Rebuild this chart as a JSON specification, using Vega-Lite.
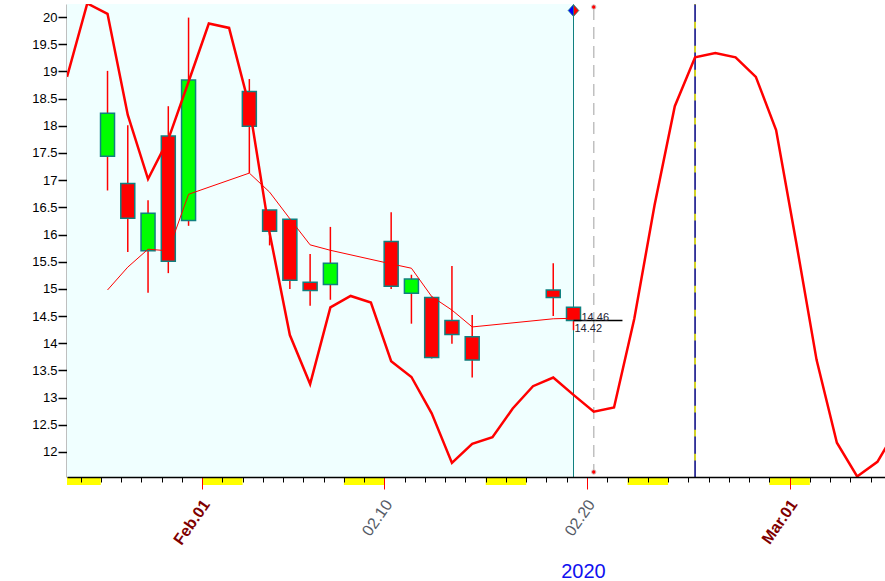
{
 "$schema": "https://vega.github.io/schema/vega-lite/v6.json",
 "width": 818, "height": 473, "autosize": "none",
 "padding": {"left": 67, "top": 4, "right": 0, "bottom": 104},
 "background": "#ffffff",
 "config": {"view": {"stroke": null}, "font": "Liberation Sans",
  "axisY": {"tickCount": 18, "format": "~g", "tickSize": 9, "tickWidth": 1.5, "tickColor": "#000000",
   "domainColor": "#000000", "domainWidth": 1.5, "labelFontSize": 13, "labelColor": "#000000",
   "labelPadding": 1, "labelFont": "Liberation Sans", "labelOverlap": false, "grid": false, "zindex": 1}},
 "datasets": {
  "shade": [{"date": "2020-01-25T08:00:00Z", "end": "2020-02-19T08:00:00Z"}],
  "weekends": [
   {"date": "2020-01-25T08:00:00Z", "end": "2020-01-27T00:00:00Z"},
   {"date": "2020-02-01T00:00:00Z", "end": "2020-02-03T00:00:00Z"},
   {"date": "2020-02-08T00:00:00Z", "end": "2020-02-10T00:00:00Z"},
   {"date": "2020-02-15T00:00:00Z", "end": "2020-02-17T00:00:00Z"},
   {"date": "2020-02-22T00:00:00Z", "end": "2020-02-24T00:00:00Z"},
   {"date": "2020-02-29T00:00:00Z", "end": "2020-03-02T00:00:00Z"}
  ],
  "candles": [
   {"date": "2020-01-27T08:00:00Z", "open": 17.44, "high": 19.01, "low": 16.81, "close": 18.23},
   {"date": "2020-01-28T08:00:00Z", "open": 16.94, "high": 18.01, "low": 15.68, "close": 16.30},
   {"date": "2020-01-29T08:00:00Z", "open": 15.70, "high": 16.63, "low": 14.93, "close": 16.39},
   {"date": "2020-01-30T08:00:00Z", "open": 17.81, "high": 18.36, "low": 15.29, "close": 15.51},
   {"date": "2020-01-31T08:00:00Z", "open": 16.26, "high": 19.99, "low": 16.16, "close": 18.84},
   {"date": "2020-02-03T08:00:00Z", "open": 18.63, "high": 18.86, "low": 17.13, "close": 17.99},
   {"date": "2020-02-04T08:00:00Z", "open": 16.45, "high": 16.45, "low": 15.80, "close": 16.06},
   {"date": "2020-02-05T08:00:00Z", "open": 16.28, "high": 16.28, "low": 15.00, "close": 15.16},
   {"date": "2020-02-06T08:00:00Z", "open": 15.12, "high": 15.64, "low": 14.69, "close": 14.97},
   {"date": "2020-02-07T08:00:00Z", "open": 15.08, "high": 16.14, "low": 14.80, "close": 15.47},
   {"date": "2020-02-10T08:00:00Z", "open": 15.87, "high": 16.41, "low": 15.00, "close": 15.05},
   {"date": "2020-02-11T08:00:00Z", "open": 14.92, "high": 15.26, "low": 14.36, "close": 15.18},
   {"date": "2020-02-12T08:00:00Z", "open": 14.84, "high": 14.86, "low": 13.72, "close": 13.74},
   {"date": "2020-02-13T08:00:00Z", "open": 14.42, "high": 15.42, "low": 13.99, "close": 14.16},
   {"date": "2020-02-14T08:00:00Z", "open": 14.12, "high": 14.52, "low": 13.37, "close": 13.69},
   {"date": "2020-02-18T08:00:00Z", "open": 14.98, "high": 15.47, "low": 14.50, "close": 14.84},
   {"date": "2020-02-19T08:00:00Z", "open": 14.66, "high": 14.66, "low": 14.24, "close": 14.42}
  ],
  "ma": [
   {"date": "2020-01-27T08:00:00Z", "ma": 14.98},
   {"date": "2020-01-28T08:00:00Z", "ma": 15.40},
   {"date": "2020-01-29T08:00:00Z", "ma": 15.73},
   {"date": "2020-01-30T08:00:00Z", "ma": 15.70},
   {"date": "2020-01-31T08:00:00Z", "ma": 16.74},
   {"date": "2020-02-03T08:00:00Z", "ma": 17.13},
   {"date": "2020-02-04T08:00:00Z", "ma": 16.78},
   {"date": "2020-02-05T08:00:00Z", "ma": 16.29},
   {"date": "2020-02-06T08:00:00Z", "ma": 15.81},
   {"date": "2020-02-07T08:00:00Z", "ma": 15.71},
   {"date": "2020-02-10T08:00:00Z", "ma": 15.46},
   {"date": "2020-02-11T08:00:00Z", "ma": 15.38},
   {"date": "2020-02-12T08:00:00Z", "ma": 14.86},
   {"date": "2020-02-13T08:00:00Z", "ma": 14.61},
   {"date": "2020-02-14T08:00:00Z", "ma": 14.30},
   {"date": "2020-02-18T08:00:00Z", "ma": 14.45},
   {"date": "2020-02-19T08:00:00Z", "ma": 14.46}
  ],
  "cycle": [
   {"date": "2020-01-25T08:00:00Z", "v": 18.90},
   {"date": "2020-01-26T08:00:00Z", "v": 20.25},
   {"date": "2020-01-27T08:00:00Z", "v": 20.06},
   {"date": "2020-01-28T08:00:00Z", "v": 18.20},
   {"date": "2020-01-29T08:00:00Z", "v": 17.02},
   {"date": "2020-01-30T08:00:00Z", "v": 17.75},
   {"date": "2020-01-31T08:00:00Z", "v": 18.81},
   {"date": "2020-02-01T08:00:00Z", "v": 19.88},
   {"date": "2020-02-02T08:00:00Z", "v": 19.80},
   {"date": "2020-02-03T08:00:00Z", "v": 18.36},
   {"date": "2020-02-04T08:00:00Z", "v": 16.03},
   {"date": "2020-02-05T08:00:00Z", "v": 14.15},
   {"date": "2020-02-06T08:00:00Z", "v": 13.25},
   {"date": "2020-02-07T08:00:00Z", "v": 14.66},
   {"date": "2020-02-08T08:00:00Z", "v": 14.87},
   {"date": "2020-02-09T08:00:00Z", "v": 14.75},
   {"date": "2020-02-10T08:00:00Z", "v": 13.67},
   {"date": "2020-02-11T08:00:00Z", "v": 13.38},
   {"date": "2020-02-12T08:00:00Z", "v": 12.71},
   {"date": "2020-02-13T08:00:00Z", "v": 11.80},
   {"date": "2020-02-14T08:00:00Z", "v": 12.15},
   {"date": "2020-02-15T08:00:00Z", "v": 12.27},
   {"date": "2020-02-16T08:00:00Z", "v": 12.80},
   {"date": "2020-02-17T08:00:00Z", "v": 13.21},
   {"date": "2020-02-18T08:00:00Z", "v": 13.37},
   {"date": "2020-02-19T08:00:00Z", "v": 13.05},
   {"date": "2020-02-20T08:00:00Z", "v": 12.74},
   {"date": "2020-02-21T08:00:00Z", "v": 12.82},
   {"date": "2020-02-22T08:00:00Z", "v": 14.45},
   {"date": "2020-02-23T08:00:00Z", "v": 16.54},
   {"date": "2020-02-24T08:00:00Z", "v": 18.36},
   {"date": "2020-02-25T08:00:00Z", "v": 19.26},
   {"date": "2020-02-26T08:00:00Z", "v": 19.34},
   {"date": "2020-02-27T08:00:00Z", "v": 19.26},
   {"date": "2020-02-28T08:00:00Z", "v": 18.90},
   {"date": "2020-02-29T08:00:00Z", "v": 17.92},
   {"date": "2020-03-01T08:00:00Z", "v": 15.84},
   {"date": "2020-03-02T08:00:00Z", "v": 13.69},
   {"date": "2020-03-03T08:00:00Z", "v": 12.17},
   {"date": "2020-03-04T08:00:00Z", "v": 11.55},
   {"date": "2020-03-05T08:00:00Z", "v": 11.82},
   {"date": "2020-03-06T08:00:00Z", "v": 12.45}
  ],
  "last": [{"date": "2020-02-19T08:00:00Z", "end": "2020-02-21T18:00:00Z", "ma": 14.46, "close": 14.42}],
  "now": [{"date": "2020-02-19T08:00:00Z"}],
  "next": [{"date": "2020-02-20T08:00:00Z"}],
  "target": [{"date": "2020-02-25T08:00:00Z"}]
 },
 "encoding": {
  "x": {
   "field": "date", "type": "temporal",
   "scale": {"type": "utc", "nice": false, "padding": 0, "domain": [
    {"year": 2020, "month": 1, "date": 25, "hours": 8, "utc": true},
    {"year": 2020, "month": 3, "date": 5, "hours": 17, "utc": true}]},
   "axis": {
    "title": "2020", "titleColor": "#1010F0", "titleFontSize": 20, "titleFontWeight": "normal",
    "titleFont": "Liberation Sans", "titleX": 516, "titleY": 100, "titleAlign": "center", "titleBaseline": "alphabetic",
    "tickCount": {"interval": "day", "step": 1},
    "labelExpr": "utcdate(datum.value)==1 ? utcFormat(datum.value, '%b.%d') : ((utcdate(datum.value)==10 || utcdate(datum.value)==20) ? utcFormat(datum.value, '%m.%d') : '')",
    "labelAngle": -55, "labelAlign": "right", "labelBaseline": "middle",
    "labelFontSize": 16, "labelFont": "Liberation Sans",
    "labelColor": {"condition": {"test": "utcdate(datum.value)==1", "value": "#800000"}, "value": "#555b66"},
    "labelFontWeight": {"condition": {"test": "utcdate(datum.value)==1", "value": "bold"}, "value": "normal"},
    "tickColor": {"condition": {"test": "utcdate(datum.value)==1 || utcdate(datum.value)==10 || utcdate(datum.value)==20", "value": "#FF0000"}, "value": "#000000"},
    "tickSize": {"condition": {"test": "utcdate(datum.value)==1 || utcdate(datum.value)==10 || utcdate(datum.value)==20", "value": 12}, "value": 5},
    "tickWidth": 1,
    "labelPadding": 12, "labelOffset": 4,
    "domainColor": "#000000", "domainWidth": 1.5,
    "grid": false, "labelOverlap": false, "labelFlush": false, "labelBound": false, "zindex": 1
   }
  }
 },
 "layer": [
  {"data": {"name": "shade", "format": {"parse": {"date": "date", "end": "date"}}},
   "mark": {"type": "rect", "color": "#F0FFFF"},
   "encoding": {"x2": {"field": "end"},
    "y": {"datum": 20.24, "type": "quantitative", "title": null, "scale": {"domain": [11.54, 20.24], "nice": false, "zero": false, "padding": 0}},
    "y2": {"datum": 11.54}}},
  {"data": {"name": "weekends", "format": {"parse": {"date": "date", "end": "date"}}},
   "mark": {"type": "rect", "color": "#FFFF00"},
   "encoding": {"x2": {"field": "end"},
    "y": {"datum": 11.54, "type": "quantitative", "title": null, "scale": {"domain": [11.54, 20.24], "nice": false, "zero": false, "padding": 0}},
    "y2": {"datum": 11.393}}},
  {"data": {"name": "now"},
   "mark": {"type": "rule", "color": "#108080", "strokeWidth": 1},
   "encoding": {"y": {"datum": 20.12, "type": "quantitative", "title": null, "scale": {"domain": [11.54, 20.24], "nice": false, "zero": false, "padding": 0}},
    "y2": {"datum": 11.54}}},
  {"data": {"name": "next"},
   "mark": {"type": "rule", "color": "#C0C0C0", "strokeWidth": 1.5, "strokeDash": [12, 7]},
   "encoding": {"y": {"datum": 20.166, "type": "quantitative", "title": null, "scale": {"domain": [11.54, 20.24], "nice": false, "zero": false, "padding": 0}},
    "y2": {"datum": 11.669}}},
  {"data": {"name": "target"},
   "mark": {"type": "rule", "color": "#000080", "strokeWidth": 1.5},
   "encoding": {"y": {"datum": 20.24, "type": "quantitative", "title": null, "scale": {"domain": [11.54, 20.24], "nice": false, "zero": false, "padding": 0}},
    "y2": {"datum": 11.54}}},
  {"data": {"name": "target"},
   "mark": {"type": "rule", "color": "#FFFF00", "strokeWidth": 1.5, "strokeDash": [6.7, 17.3], "strokeDashOffset": 6.3},
   "encoding": {"y": {"datum": 20.24, "type": "quantitative", "title": null, "scale": {"domain": [11.54, 20.24], "nice": false, "zero": false, "padding": 0}},
    "y2": {"datum": 11.54}}},
  {"data": {"name": "candles"},
   "mark": {"type": "rule", "color": "#FF0000", "strokeWidth": 1.5},
   "encoding": {
    "y": {"field": "low", "type": "quantitative", "title": null,
     "scale": {"domain": [11.54, 20.24], "nice": false, "zero": false, "padding": 0},
     "axis": {"values": [12, 12.5, 13, 13.5, 14, 14.5, 15, 15.5, 16, 16.5, 17, 17.5, 18, 18.5, 19, 19.5, 20], "format": "~g", "title": null}},
    "y2": {"field": "high"}}},
  {"data": {"name": "candles"},
   "mark": {"type": "bar", "size": 14, "stroke": "#108080", "strokeWidth": 1.5},
   "encoding": {
    "y": {"field": "open", "type": "quantitative", "title": null, "scale": {"domain": [11.54, 20.24], "nice": false, "zero": false, "padding": 0}},
    "y2": {"field": "close"},
    "fill": {"condition": {"test": "datum.close > datum.open", "value": "#00FF00"}, "value": "#FF0000"}}},
  {"data": {"name": "ma"},
   "mark": {"type": "line", "color": "#FF0000", "strokeWidth": 1},
   "encoding": {"y": {"field": "ma", "type": "quantitative", "title": null, "scale": {"domain": [11.54, 20.24], "nice": false, "zero": false, "padding": 0}}}},
  {"data": {"name": "cycle"},
   "mark": {"type": "line", "color": "#FF0000", "strokeWidth": 2.5, "clip": true},
   "encoding": {"y": {"field": "v", "type": "quantitative", "title": null, "scale": {"domain": [11.54, 20.24], "nice": false, "zero": false, "padding": 0}}}},
  {"data": {"name": "last", "format": {"parse": {"date": "date", "end": "date"}}},
   "mark": {"type": "rule", "color": "#000000", "strokeWidth": 1.5},
   "encoding": {"x2": {"field": "end"},
    "y": {"field": "close", "type": "quantitative", "title": null, "scale": {"domain": [11.54, 20.24], "nice": false, "zero": false, "padding": 0}}}},
  {"data": {"name": "next"},
   "mark": {"type": "point", "filled": true, "color": "#FF0000", "stroke": "#D0D0D0", "strokeWidth": 1, "size": 20, "opacity": 1},
   "encoding": {"y": {"datum": 20.184, "type": "quantitative", "title": null, "scale": {"domain": [11.54, 20.24], "nice": false, "zero": false, "padding": 0}}}},
  {"data": {"name": "next"},
   "mark": {"type": "point", "filled": true, "color": "#FF0000", "stroke": "#D0D0D0", "strokeWidth": 1, "size": 20, "opacity": 1},
   "encoding": {"y": {"datum": 11.632, "type": "quantitative", "title": null, "scale": {"domain": [11.54, 20.24], "nice": false, "zero": false, "padding": 0}}}},
  {"data": {"name": "now"},
   "mark": {"type": "point", "shape": "M0,-1L-0.9,0L0,1Z", "filled": true, "color": "#0000FF", "stroke": "#108080", "strokeWidth": 0.8, "size": 140, "opacity": 1},
   "encoding": {"y": {"datum": 20.12, "type": "quantitative", "title": null, "scale": {"domain": [11.54, 20.24], "nice": false, "zero": false, "padding": 0}}}},
  {"data": {"name": "now"},
   "mark": {"type": "point", "shape": "M0,-1L0.9,0L0,1Z", "filled": true, "color": "#FF0000", "stroke": "#108080", "strokeWidth": 0.8, "size": 140, "opacity": 1},
   "encoding": {"y": {"datum": 20.12, "type": "quantitative", "title": null, "scale": {"domain": [11.54, 20.24], "nice": false, "zero": false, "padding": 0}}}},
  {"data": {"name": "last"},
   "mark": {"type": "text", "align": "left", "baseline": "middle", "dx": 8, "fontSize": 11, "font": "Liberation Sans", "color": "#222233"},
   "encoding": {"y": {"field": "ma", "type": "quantitative", "title": null, "scale": {"domain": [11.54, 20.24], "nice": false, "zero": false, "padding": 0}},
    "text": {"field": "ma", "type": "quantitative", "format": ".2f"}}},
  {"data": {"name": "last"},
   "mark": {"type": "text", "align": "left", "baseline": "top", "dx": 1, "dy": 3, "fontSize": 11, "font": "Liberation Sans", "color": "#222233"},
   "encoding": {"y": {"field": "close", "type": "quantitative", "title": null, "scale": {"domain": [11.54, 20.24], "nice": false, "zero": false, "padding": 0}},
    "text": {"field": "close", "type": "quantitative", "format": ".2f"}}}
 ]
}
